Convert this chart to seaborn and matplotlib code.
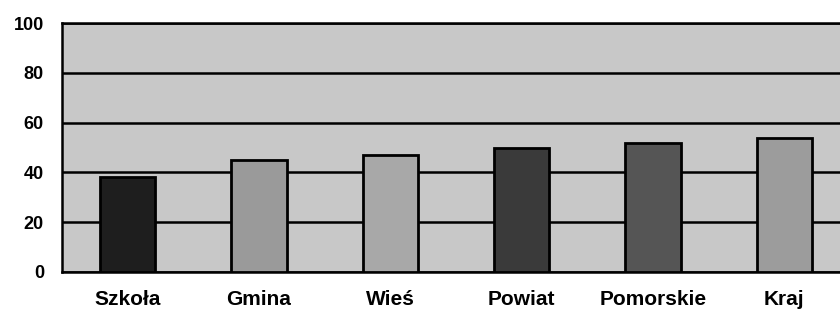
import matplotlib
matplotlib.use('Agg')
import matplotlib.pyplot as plt
import seaborn as sns
import pandas as pd

categories = ['Szkoła', 'Gmina', 'Wieś', 'Powiat', 'Pomorskie', 'Kraj']
values = [38, 45, 47, 50, 52, 54]
bar_colors = ['#1e1e1e', '#9a9a9a', '#a8a8a8', '#3a3a3a', '#555555', '#9c9c9c']
y_ticks = [0, 20, 40, 60, 80, 100]

df = pd.DataFrame({'kategoria': categories, 'wartosc': values})

sns.set_style('white')
plt.rcParams['font.family'] = ['Liberation Sans', 'DejaVu Sans']

fig = plt.figure(figsize=(8.4, 3.14), dpi=100)
ax = fig.add_axes([62 / 840, 42 / 314, 788 / 840, 249 / 314])

sns.barplot(data=df, x='kategoria', y='wartosc', hue='kategoria',
            palette=bar_colors, legend=False, width=0.42,
            edgecolor='black', linewidth=2, ax=ax, zorder=3)

ax.set_facecolor('#c8c8c8')
ax.set_ylim(0, 100)
ax.set_xlim(-0.5, 5.5)
ax.set_yticks(y_ticks)
ax.set_yticklabels([str(t) for t in y_ticks], fontsize=13, fontweight='bold', color='black')
ax.yaxis.grid(True, color='black', linewidth=1.8, zorder=1)
ax.set_axisbelow(True)

# category labels centred, ticks on the category boundaries
ax.set_xticks(range(len(categories)))
ax.set_xticklabels(categories, fontsize=15, fontweight='bold', color='black')
ax.tick_params(axis='x', length=0, pad=13)
ax.set_xticks([i - 0.5 for i in range(len(categories) + 1)], minor=True)
ax.tick_params(axis='x', which='minor', length=5, width=1.5, color='black', direction='out')
ax.tick_params(axis='y', length=8, width=1.5, color='black', direction='out', pad=5)

ax.set_xlabel('')
ax.set_ylabel('')

for side in ['left', 'bottom', 'top']:
    ax.spines[side].set_color('black')
    ax.spines[side].set_linewidth(1.8)
ax.spines['right'].set_visible(False)

plt.savefig('out.png', dpi=100)
plt.close()
